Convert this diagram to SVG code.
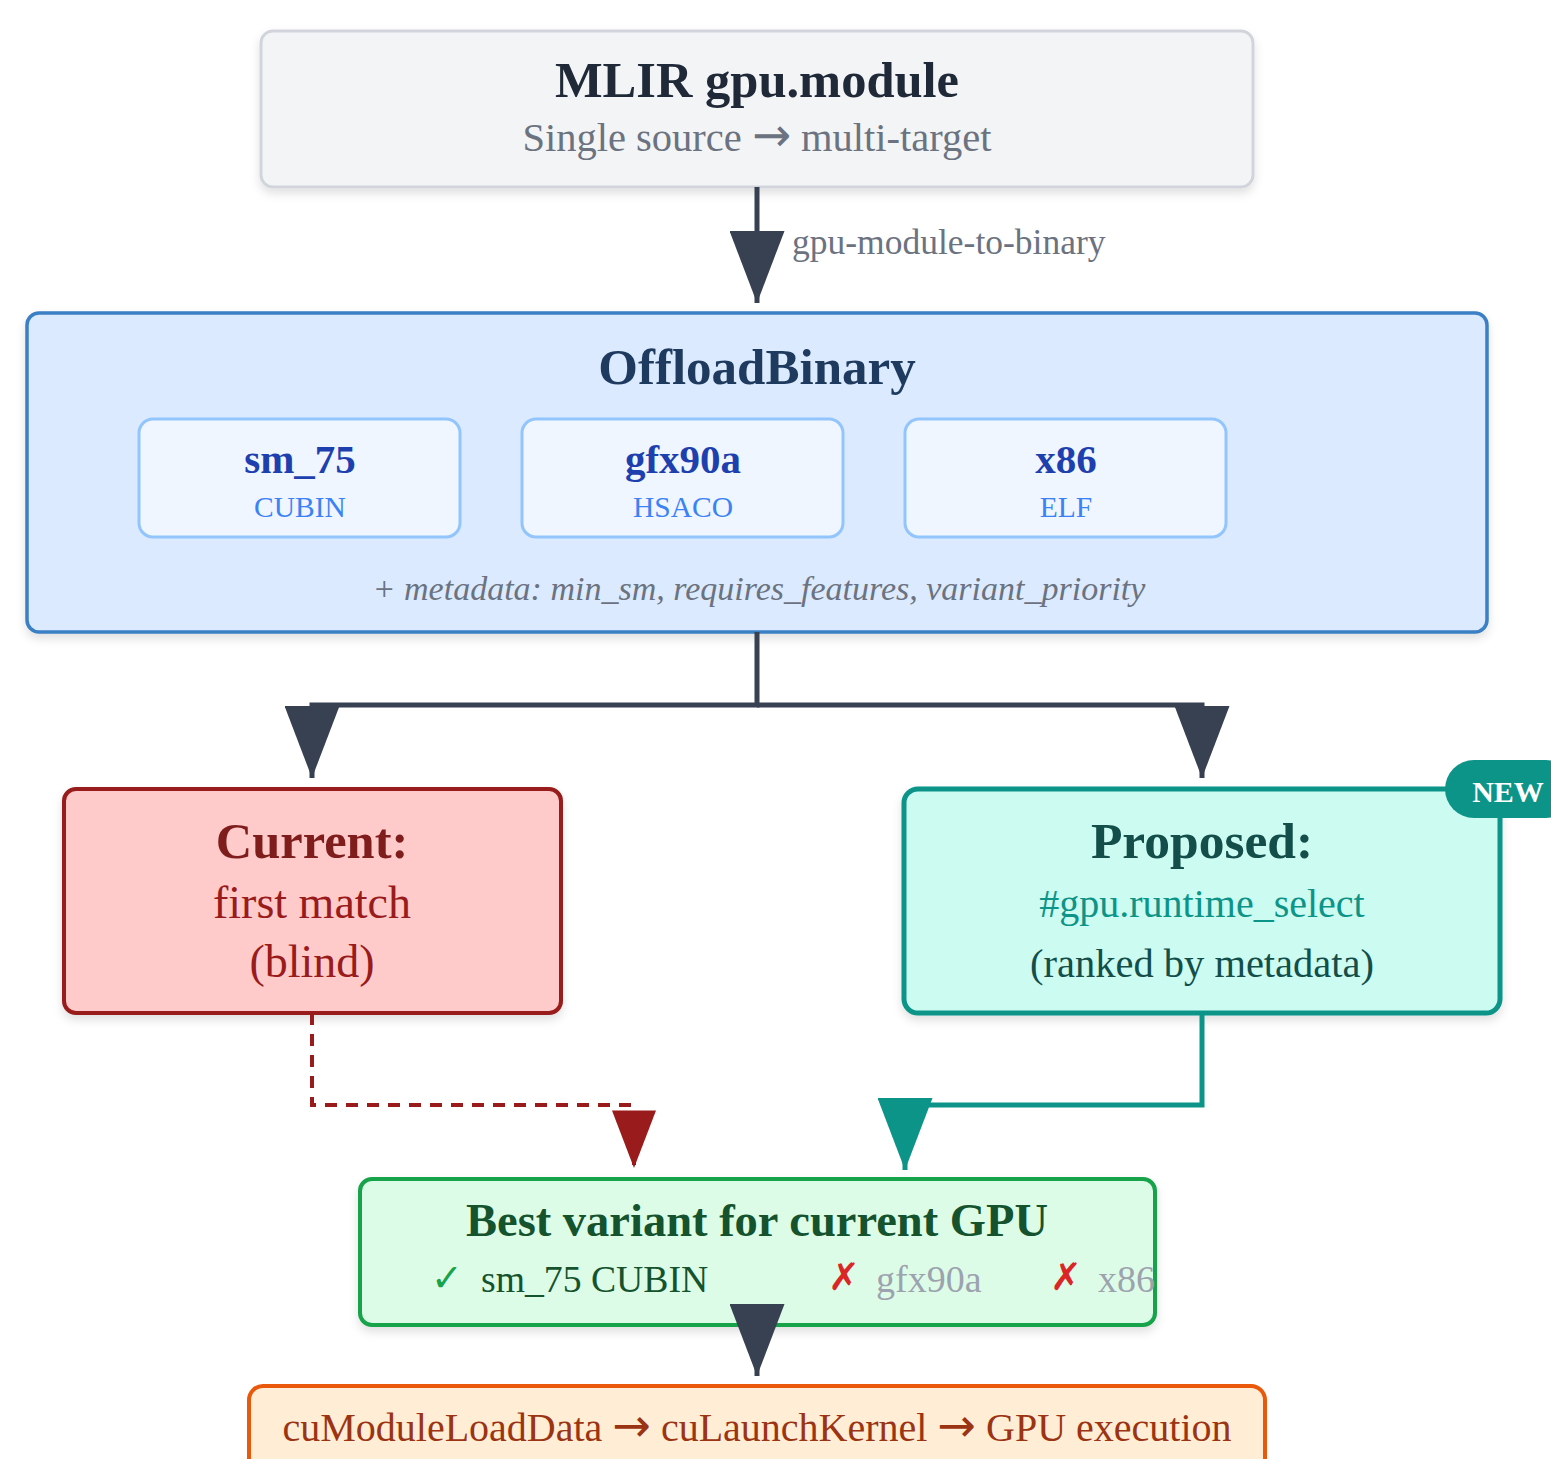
<svg xmlns="http://www.w3.org/2000/svg" width="1551" height="1459" viewBox="0 0 1551 1459">
<style>
text{font-family:"Liberation Serif","DejaVu Serif",serif;text-anchor:middle}
.b{font-weight:bold}
.ar{font-family:"DejaVu Sans",sans-serif;font-size:1.15em}
.conn{fill:none;stroke-linejoin:miter}
</style>
<defs>
<filter id="sh" x="-5%" y="-10%" width="110%" height="130%">
<feDropShadow dx="0" dy="5" stdDeviation="5" flood-color="#000" flood-opacity="0.12"/>
</filter>
<marker id="mDark" viewBox="0 0 14.4 11" refX="14.4" refY="5.5" markerWidth="14.4" markerHeight="11" markerUnits="strokeWidth" orient="auto"><path d="M0,0 L14.4,5.5 L0,11 z" fill="#374151"/></marker>
<marker id="mRed" viewBox="0 0 14.4 11" refX="14.4" refY="5.5" markerWidth="14.4" markerHeight="11" markerUnits="strokeWidth" orient="auto"><path d="M0,0 L14.4,5.5 L0,11 z" fill="#991b1b"/></marker>
<marker id="mTeal" viewBox="0 0 14.4 11" refX="14.4" refY="5.5" markerWidth="14.4" markerHeight="11" markerUnits="strokeWidth" orient="auto"><path d="M0,0 L14.4,5.5 L0,11 z" fill="#0d9488"/></marker>
</defs>
<rect width="1551" height="1459" fill="#ffffff"/>

<g id="node-mlir">
<rect x="261" y="31" width="992" height="156" rx="12" fill="#f3f4f6" stroke="#d1d5db" stroke-width="3" filter="url(#sh)"/>
<text x="757" y="97" class="b" font-size="50.5" fill="#1f2937">MLIR gpu.module</text>
<text x="757" y="151" font-size="40.5" fill="#6b7280">Single source <tspan class="ar">→</tspan> multi-target</text>
</g>

<g id="node-offload">
<rect x="27" y="313" width="1460" height="319" rx="12" fill="#dbeafe" stroke="#3b7fc4" stroke-width="3.5" filter="url(#sh)"/>
<text x="757" y="384" class="b" font-size="51" fill="#1e3a5f">OffloadBinary</text>
<text x="759" y="600" font-size="34" font-style="italic" fill="#6b7280">+ metadata: min_sm, requires_features, variant_priority</text>
</g>
<g id="node-sm75">
<rect x="139" y="419" width="321" height="118" rx="14" fill="#eff6ff" stroke="#93c5fd" stroke-width="3"/>
<text x="300" y="473" class="b" font-size="41" fill="#1e40af">sm_75</text>
<text x="300" y="517" font-size="29.5" fill="#3b82f6">CUBIN</text>
</g>
<g id="node-gfx90a">
<rect x="522" y="419" width="321" height="118" rx="14" fill="#eff6ff" stroke="#93c5fd" stroke-width="3"/>
<text x="683" y="473" class="b" font-size="41" fill="#1e40af">gfx90a</text>
<text x="683" y="517" font-size="29.5" fill="#3b82f6">HSACO</text>
</g>
<g id="node-x86">
<rect x="905" y="419" width="321" height="118" rx="14" fill="#eff6ff" stroke="#93c5fd" stroke-width="3"/>
<text x="1066" y="473" class="b" font-size="41" fill="#1e40af">x86</text>
<text x="1066" y="517" font-size="29.5" fill="#3b82f6">ELF</text>
</g>

<g id="node-current">
<rect x="64" y="789" width="497" height="224" rx="12" fill="#fecaca" stroke="#991b1b" stroke-width="4" filter="url(#sh)"/>
<text x="312" y="858" class="b" font-size="50.5" fill="#7f1d1d">Current:</text>
<text x="312" y="918" font-size="46" fill="#991b1b">first match</text>
<text x="312" y="977" font-size="46" fill="#991b1b">(blind)</text>
</g>

<g id="node-proposed">
<rect x="904" y="789" width="596" height="224" rx="14" fill="#ccfbf1" stroke="#0d9488" stroke-width="5" filter="url(#sh)"/>
<text x="1202" y="858" class="b" font-size="51.5" fill="#134e4a">Proposed:</text>
<text x="1202" y="917" font-size="40" fill="#0d9488">#gpu.runtime_select</text>
<text x="1202" y="977" font-size="40.5" fill="#134e4a">(ranked by metadata)</text>
</g>
<g id="badge-new">
<rect x="1445" y="760" width="130" height="58" rx="29" fill="#0d9488"/>
<text x="1508" y="802" class="b" font-size="30" fill="#ffffff">NEW</text>
</g>

<g id="node-best">
<rect x="360" y="1179" width="795" height="146" rx="12" fill="#dcfce7" stroke="#16a34a" stroke-width="4" filter="url(#sh)"/>
<text x="757" y="1236" class="b" font-size="46.5" fill="#14532d">Best variant for current GPU</text>
<text x="447" y="1291" font-size="38" fill="#16a34a" font-family="DejaVu Sans, sans-serif">✓</text>
<text x="481" y="1292" font-size="37.7" fill="#14532d" style="text-anchor:start">sm_75 CUBIN</text>
<text x="844" y="1290" font-size="38" fill="#dc2626" font-family="DejaVu Sans, sans-serif">✗</text>
<text x="876" y="1292" font-size="38" fill="#9ca3af" style="text-anchor:start">gfx90a</text>
<text x="1066" y="1290" font-size="38" fill="#dc2626" font-family="DejaVu Sans, sans-serif">✗</text>
<text x="1098" y="1292" font-size="38" fill="#9ca3af" style="text-anchor:start">x86</text>
</g>

<g id="node-exec">
<rect x="249" y="1386" width="1016" height="100" rx="14" fill="#ffedd5" stroke="#ea580c" stroke-width="4"/>
<text x="757" y="1441" font-size="40" fill="#9a3412">cuModuleLoadData <tspan class="ar">→</tspan> cuLaunchKernel <tspan class="ar">→</tspan> GPU execution</text>
</g>

<g id="connectors">
<path class="conn" d="M757 187 V303" stroke="#374151" stroke-width="5" marker-end="url(#mDark)"/>
<text x="792" y="254" font-size="35.5" fill="#6b7280" style="text-anchor:start">gpu-module-to-binary</text>
<path class="conn" d="M757 632 V705 H312 V778" stroke="#374151" stroke-width="5" marker-end="url(#mDark)"/>
<path class="conn" d="M757 705 H1202 V778" stroke="#374151" stroke-width="5" marker-end="url(#mDark)"/>
<path class="conn" d="M312 1013 V1105 H634 V1168" stroke="#991b1b" stroke-width="4" stroke-dasharray="12 9" marker-end="url(#mRed)"/>
<path class="conn" d="M1202 1013 V1105 H905 V1170" stroke="#0d9488" stroke-width="5" marker-end="url(#mTeal)"/>
<path class="conn" d="M757 1325 V1376" stroke="#374151" stroke-width="5" marker-end="url(#mDark)"/>
</g>
</svg>
